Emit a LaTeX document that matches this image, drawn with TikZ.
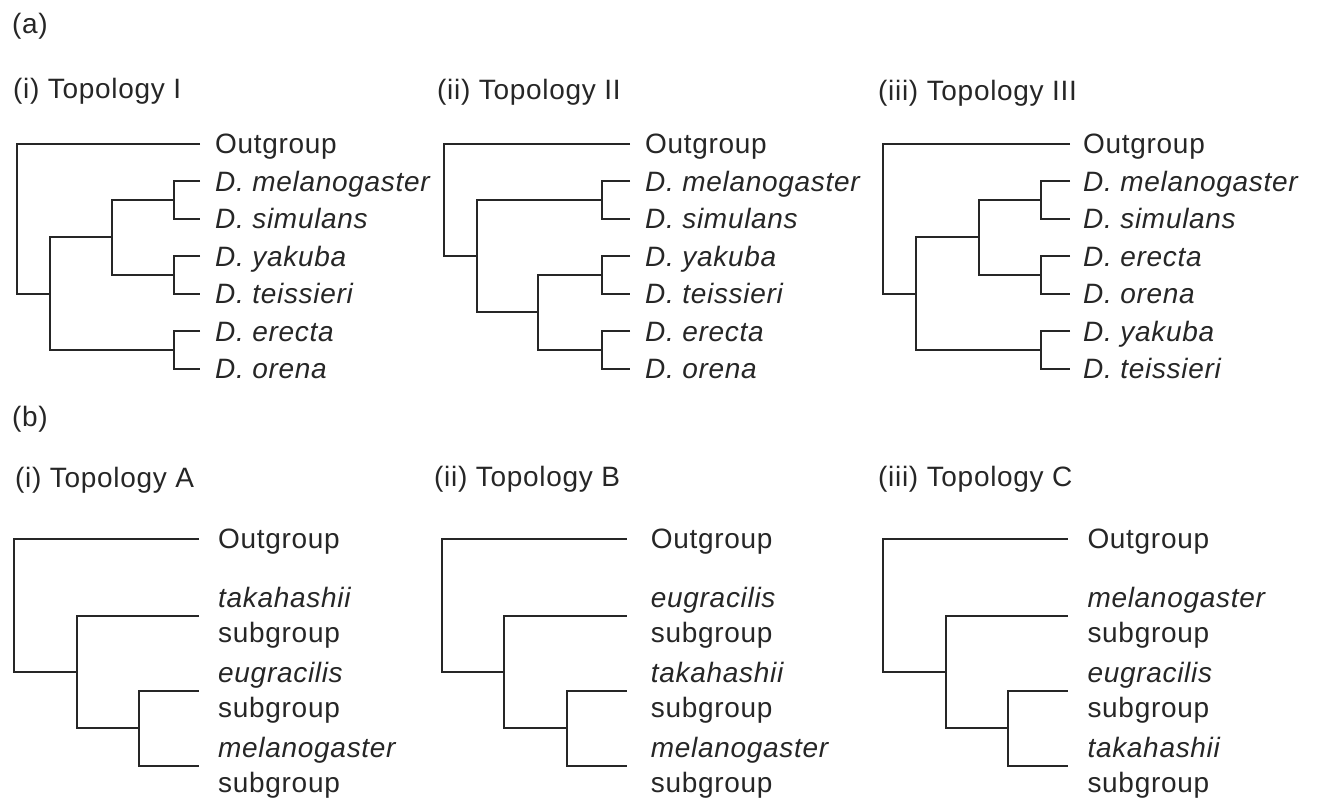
\documentclass[tikz,border=0pt]{standalone}
\usepackage{fontspec}
\setmainfont{Liberation Sans}[LetterSpace=2.5]
\usetikzlibrary{calc}
\begin{document}
\begin{tikzpicture}[x=1pt,y=-1pt,
  br/.style={line width=2pt, line join=miter, draw=black!85},
  lab/.style={font=\fontsize{28}{35}\selectfont, anchor=base west, inner sep=0pt, text=black!85}
]
\useasboundingbox (0,0) rectangle (1321,804);
\newcommand{\twoline}[1]{\begin{tabular}[t]{@{}l@{}}\textit{#1}\\subgroup\end{tabular}}

% ---------- titles ----------
\node[lab] (ta)  at (12,33)  {(a)};
\node[lab] (ta1) at (13,98)  {(i) Topology I};
\node[lab] (ta2) at (437,99) {(ii) Topology II};
\node[lab] (ta3) at (878,100) {(iii) Topology III};
\node[lab] (tb)  at (12,426) {(b)};
\node[lab] (tb1) at (15,487) {(i) Topology A};
\node[lab] (tb2) at (434,486) {(ii) Topology B};
\node[lab] (tb3) at (878,486) {(iii) Topology C};

% ---------- (a)(i) ----------
\coordinate (Ao) at (200,143.5);
\coordinate (Am) at (200,181);
\coordinate (As) at (200,218.5);
\coordinate (Ay) at (200,256);
\coordinate (At) at (200,293.5);
\coordinate (Ae) at (200,331);
\coordinate (Ar) at (200,368.5);
\coordinate (Ams) at (174,199.75);
\coordinate (Ayt) at (174,274.75);
\coordinate (Aer) at (174,349.75);
\coordinate (Amy) at (111.7,237.25);
\coordinate (Acore) at (50,293.5);
\coordinate (Aroot) at (16.7,218.5);
\draw[br] (Am) -| (Ams) |- (As);
\draw[br] (Ay) -| (Ayt) |- (At);
\draw[br] (Ae) -| (Aer) |- (Ar);
\draw[br] (Ams) -| (Amy) |- (Ayt);
\draw[br] (Amy) -| (Acore) |- (Aer);
\draw[br] (Ao) -| (Aroot) |- (Acore);
\node[lab] (ALo) at ($(Ao)+(15,10)$) {Outgroup};
\node[lab] (ALm) at ($(Am)+(15,10)$) {\textit{D. melanogaster}};
\node[lab] (ALs) at ($(As)+(15,10)$) {\textit{D. simulans}};
\node[lab] (ALy) at ($(Ay)+(15,10)$) {\textit{D. yakuba}};
\node[lab] (ALt) at ($(At)+(15,10)$) {\textit{D. teissieri}};
\node[lab] (ALe) at ($(Ae)+(15,10)$) {\textit{D. erecta}};
\node[lab] (ALr) at ($(Ar)+(15,10)$) {\textit{D. orena}};

% ---------- (a)(ii) ----------
\coordinate (Bo) at (630,143.5);
\coordinate (Bm) at (630,181);
\coordinate (Bs) at (630,218.5);
\coordinate (By) at (630,256);
\coordinate (Bt) at (630,293.5);
\coordinate (Be) at (630,331);
\coordinate (Br) at (630,368.5);
\coordinate (Bms) at (601.7,199.75);
\coordinate (Byt) at (601.7,274.75);
\coordinate (Ber) at (601.7,349.75);
\coordinate (Byter) at (538.3,312.25);
\coordinate (Bcore) at (476.7,256);
\coordinate (Broot) at (444,199.75);
\draw[br] (Bm) -| (Bms) |- (Bs);
\draw[br] (By) -| (Byt) |- (Bt);
\draw[br] (Be) -| (Ber) |- (Br);
\draw[br] (Byt) -| (Byter) |- (Ber);
\draw[br] (Bms) -| (Bcore) |- (Byter);
\draw[br] (Bo) -| (Broot) |- (Bcore);
\node[lab] (BLo) at ($(Bo)+(15,10)$) {Outgroup};
\node[lab] (BLm) at ($(Bm)+(15,10)$) {\textit{D. melanogaster}};
\node[lab] (BLs) at ($(Bs)+(15,10)$) {\textit{D. simulans}};
\node[lab] (BLy) at ($(By)+(15,10)$) {\textit{D. yakuba}};
\node[lab] (BLt) at ($(Bt)+(15,10)$) {\textit{D. teissieri}};
\node[lab] (BLe) at ($(Be)+(15,10)$) {\textit{D. erecta}};
\node[lab] (BLr) at ($(Br)+(15,10)$) {\textit{D. orena}};

% ---------- (a)(iii) ----------
\coordinate (Co) at (1070,143.5);
\coordinate (Cm) at (1070,181);
\coordinate (Cs) at (1070,218.5);
\coordinate (Ce) at (1070,256);
\coordinate (Cr) at (1070,293.5);
\coordinate (Cy) at (1070,331);
\coordinate (Ct) at (1070,368.5);
\coordinate (Cms) at (1041,199.75);
\coordinate (Cer) at (1041,274.75);
\coordinate (Cyt) at (1041,349.75);
\coordinate (Cmser) at (979.3,237.25);
\coordinate (Ccore) at (915.7,293.5);
\coordinate (Croot) at (883.3,218.5);
\draw[br] (Cm) -| (Cms) |- (Cs);
\draw[br] (Ce) -| (Cer) |- (Cr);
\draw[br] (Cy) -| (Cyt) |- (Ct);
\draw[br] (Cms) -| (Cmser) |- (Cer);
\draw[br] (Cmser) -| (Ccore) |- (Cyt);
\draw[br] (Co) -| (Croot) |- (Ccore);
\node[lab] (CLo) at ($(Co)+(13,10)$) {Outgroup};
\node[lab] (CLm) at ($(Cm)+(13,10)$) {\textit{D. melanogaster}};
\node[lab] (CLs) at ($(Cs)+(13,10)$) {\textit{D. simulans}};
\node[lab] (CLe) at ($(Ce)+(13,10)$) {\textit{D. erecta}};
\node[lab] (CLr) at ($(Cr)+(13,10)$) {\textit{D. orena}};
\node[lab] (CLy) at ($(Cy)+(13,10)$) {\textit{D. yakuba}};
\node[lab] (CLt) at ($(Ct)+(13,10)$) {\textit{D. teissieri}};

% ---------- (b)(i) ----------
\coordinate (Do) at (199,538.5);
\coordinate (D1) at (199,615.5);
\coordinate (D2) at (199,690.5);
\coordinate (D3) at (199,765.5);
\coordinate (Dc) at (139.3,728);
\coordinate (Db) at (77.3,671.75);
\coordinate (Droot) at (14.3,605);
\draw[br] (D2) -| (Dc) |- (D3);
\draw[br] (D1) -| (Db) |- (Dc);
\draw[br] (Do) -| (Droot) |- (Db);
\node[lab] (DLo) at ($(Do)+(19,10)$) {Outgroup};
\node[lab] (DL1) at ($(D1)+(19,-8)$) {\twoline{takahashii}};
\node[lab] (DL2) at ($(D2)+(19,-8)$) {\twoline{eugracilis}};
\node[lab] (DL3) at ($(D3)+(19,-8)$) {\twoline{melanogaster}};

% ---------- (b)(ii) ----------
\coordinate (Eo) at (626.7,538.5);
\coordinate (E1) at (626.7,615.5);
\coordinate (E2) at (626.7,690.5);
\coordinate (E3) at (626.7,765.5);
\coordinate (Ec) at (566.7,728);
\coordinate (Eb) at (504,671.75);
\coordinate (Eroot) at (441.7,605);
\draw[br] (E2) -| (Ec) |- (E3);
\draw[br] (E1) -| (Eb) |- (Ec);
\draw[br] (Eo) -| (Eroot) |- (Eb);
\node[lab] (ELo) at ($(Eo)+(24,10)$) {Outgroup};
\node[lab] (EL1) at ($(E1)+(24,-8)$) {\twoline{eugracilis}};
\node[lab] (EL2) at ($(E2)+(24,-8)$) {\twoline{takahashii}};
\node[lab] (EL3) at ($(E3)+(24,-8)$) {\twoline{melanogaster}};

% ---------- (b)(iii) ----------
\coordinate (Fo) at (1067.7,538.5);
\coordinate (F1) at (1067.7,615.5);
\coordinate (F2) at (1067.7,690.5);
\coordinate (F3) at (1067.7,765.5);
\coordinate (Fc) at (1008.3,728);
\coordinate (Fb) at (946,671.75);
\coordinate (Froot) at (883.3,605);
\draw[br] (F2) -| (Fc) |- (F3);
\draw[br] (F1) -| (Fb) |- (Fc);
\draw[br] (Fo) -| (Froot) |- (Fb);
\node[lab] (FLo) at ($(Fo)+(19.6,10)$) {Outgroup};
\node[lab] (FL1) at ($(F1)+(19.6,-8)$) {\twoline{melanogaster}};
\node[lab] (FL2) at ($(F2)+(19.6,-8)$) {\twoline{eugracilis}};
\node[lab] (FL3) at ($(F3)+(19.6,-8)$) {\twoline{takahashii}};
\end{tikzpicture}
\end{document}
